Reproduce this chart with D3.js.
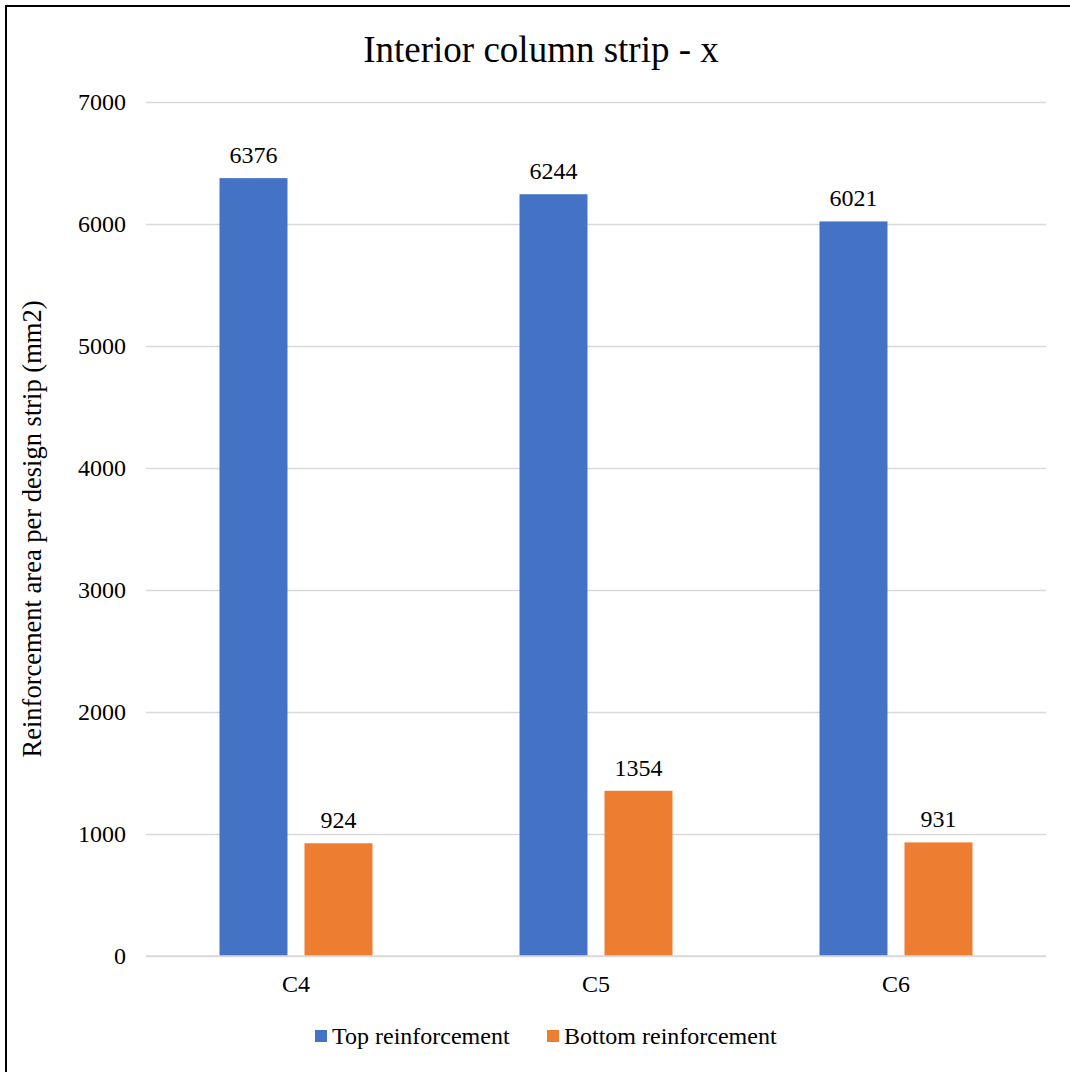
<!DOCTYPE html>
<html>
<head>
<meta charset="utf-8">
<script src="https://cdn.jsdelivr.net/npm/d3@7"></script>
<style>
  html, body { margin: 0; padding: 0; background: #fff; }
  svg, svg text { font-family: "Liberation Serif", "Times New Roman", serif !important; }
</style>
</head>
<body>
<svg id="chart" width="1070" height="1072"></svg>
<script>
// Required reinforcement area per design strip, interior column strip (x direction)
const categories = ["C4", "C5", "C6"];
const seriesNames = ["Top reinforcement", "Bottom reinforcement"];
const topValues = [6376, 6244, 6021];
const bottomValues = [924, 1354, 931];
const yTicks = [0, 1000, 2000, 3000, 4000, 5000, 6000, 7000];
const colors = ["#4472C4", "#ED7D31"];

(function () {
  const rows = categories.map((c, i) => ({
    cat: c,
    vals: [
      { s: seriesNames[0], v: topValues[i] },
      { s: seriesNames[1], v: bottomValues[i] }
    ]
  }));

  const svg = d3.select("#chart");

  // outer frame
  svg.append("rect")
    .attr("x", 6).attr("y", 6)
    .attr("width", 1080).attr("height", 1080)
    .attr("fill", "#fff").attr("stroke", "#000").attr("stroke-width", 2);

  const plot = { left: 146, right: 1046, top: 102, bottom: 956 };

  const x0 = d3.scaleBand().domain(categories).range([plot.left, plot.right])
    .paddingInner(0.49).paddingOuter(0.245);
  const x1 = d3.scaleBand().domain(seriesNames).range([0, x0.bandwidth()])
    .paddingInner(0.2).paddingOuter(0);
  const y = d3.scaleLinear().domain([0, 7000]).range([plot.bottom, plot.top]);
  const color = d3.scaleOrdinal().domain(seriesNames).range(colors);

  // gridlines and value ticks
  const yAxis = d3.axisLeft(y).tickValues(yTicks).tickFormat(d3.format("d"))
    .tickSize(-(plot.right - plot.left)).tickPadding(20);
  const gy = svg.append("g").attr("transform", `translate(${plot.left},0)`).call(yAxis);
  gy.select(".domain").remove();
  gy.selectAll(".tick line").attr("stroke", "#d9d9d9").attr("stroke-width", 1.3);
  gy.selectAll(".tick text").attr("font-size", 24).attr("fill", "#000");

  // bars
  const groups = svg.append("g").selectAll("g").data(rows).join("g")
    .attr("transform", d => `translate(${x0(d.cat)},0)`);

  groups.selectAll("rect").data(d => d.vals).join("rect")
    .attr("x", d => x1(d.s))
    .attr("y", d => y(d.v))
    .attr("width", x1.bandwidth())
    .attr("height", d => y(0) - y(d.v))
    .attr("fill", d => color(d.s));

  groups.selectAll("text").data(d => d.vals).join("text")
    .attr("x", d => x1(d.s) + x1.bandwidth() / 2)
    .attr("y", d => y(d.v) - 15)
    .attr("text-anchor", "middle")
    .attr("font-size", 24)
    .attr("fill", "#000")
    .text(d => d.v);

  // baseline
  svg.append("line")
    .attr("x1", plot.left).attr("x2", plot.right)
    .attr("y1", y(0)).attr("y2", y(0))
    .attr("stroke", "#d9d9d9").attr("stroke-width", 1.5);

  // category axis
  const xAxis = d3.axisBottom(x0).tickSize(0).tickPadding(19);
  const gx = svg.append("g").attr("transform", `translate(0,${plot.bottom})`).call(xAxis);
  gx.select(".domain").remove();
  gx.selectAll(".tick text").attr("font-size", 24).attr("fill", "#000");

  // title
  svg.append("text")
    .attr("x", 541).attr("y", 62)
    .attr("text-anchor", "middle")
    .attr("font-size", 37)
    .attr("fill", "#000")
    .text("Interior column strip - x");

  // y axis title
  svg.append("text")
    .attr("transform", `translate(41,${(plot.top + plot.bottom) / 2}) rotate(-90)`)
    .attr("text-anchor", "middle")
    .attr("font-size", 26.5)
    .attr("fill", "#000")
    .text("Reinforcement area per design strip (mm2)");

  // legend
  const legendItems = [
    { name: seriesNames[0], x: 315 },
    { name: seriesNames[1], x: 547 }
  ];
  const lg = svg.append("g").selectAll("g").data(legendItems).join("g")
    .attr("transform", d => `translate(${d.x},1030)`);
  lg.append("rect").attr("width", 12).attr("height", 12)
    .attr("fill", d => color(d.name));
  lg.append("text").attr("x", 17).attr("y", 14)
    .attr("font-size", 24).attr("fill", "#000")
    .text(d => d.name);
})();
</script>
</body>
</html>
